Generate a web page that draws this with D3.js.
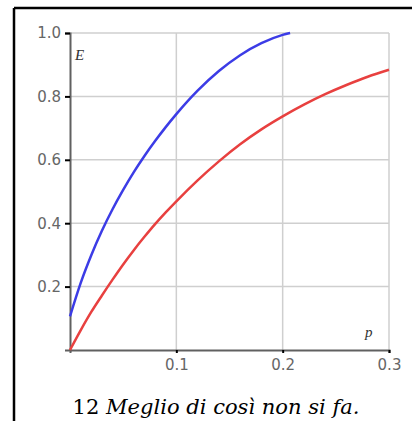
<!DOCTYPE html>
<html>
<head>
<meta charset="utf-8">
<script src="https://cdn.jsdelivr.net/npm/d3@7"></script>
<style>
  html, body { margin: 0; padding: 0; background: #fff; }
  svg { display: block; }
</style>
</head>
<body>
<svg id="chart" width="412" height="421"></svg>
<script>
// values
var redP      = [0, 0.01, 0.02, 0.03, 0.04, 0.05, 0.06, 0.07, 0.08, 0.09, 0.10, 0.12, 0.14, 0.16, 0.18, 0.20, 0.22, 0.24, 0.26, 0.28, 0.30];
var redE      = [0, 0.062, 0.12, 0.172, 0.222, 0.27, 0.315, 0.357, 0.397, 0.434, 0.469, 0.535, 0.595, 0.649, 0.696, 0.737, 0.774, 0.807, 0.836, 0.862, 0.884];
var blueP     = [0, 0.01, 0.02, 0.03, 0.04, 0.05, 0.06, 0.07, 0.08, 0.09, 0.10, 0.12, 0.14, 0.16, 0.18, 0.20, 0.207];
var blueE     = [0.106, 0.211, 0.299, 0.376, 0.444, 0.505, 0.561, 0.612, 0.659, 0.703, 0.744, 0.818, 0.880, 0.930, 0.968, 0.994, 1.0];
var xTicks    = [0.1, 0.2, 0.3];
var yTicks    = [0.2, 0.4, 0.6, 0.8, 1.0];
var caption   = "Meglio di così non si fa.";
var figNumber = "12";

var svg = d3.select("#chart");

// frame lines (top and left)
svg.append("line").attr("x1", 14).attr("x2", 412).attr("y1", 8).attr("y2", 8)
   .attr("stroke", "#000").attr("stroke-width", 2.5);
svg.append("line").attr("x1", 14).attr("x2", 14).attr("y1", 8).attr("y2", 421)
   .attr("stroke", "#000").attr("stroke-width", 2.5);

var x = d3.scaleLinear().domain([0, 0.3]).range([70, 389]);
var y = d3.scaleLinear().domain([0, 1]).range([350, 33]);

// grid
var grid = svg.append("g");
grid.selectAll(".gx").data(xTicks).enter().append("line")
  .attr("x1", function(d){ return x(d); }).attr("x2", function(d){ return x(d); })
  .attr("y1", y(0)).attr("y2", y(1))
  .attr("stroke", "#cfcfcf").attr("stroke-width", 1.5);
grid.selectAll(".gy").data(yTicks).enter().append("line")
  .attr("x1", x(0)).attr("x2", x(0.3))
  .attr("y1", function(d){ return y(d); }).attr("y2", function(d){ return y(d); })
  .attr("stroke", "#cfcfcf").attr("stroke-width", 1.5);

// axes
var xAxis = d3.axisBottom(x).tickValues(xTicks).tickSize(3).tickPadding(9)
  .tickFormat(d3.format(".1f"));
var yAxis = d3.axisLeft(y).tickValues(yTicks).tickSize(5).tickPadding(4)
  .tickFormat(d3.format(".1f"));

var gx = svg.append("g").attr("transform", "translate(0," + y(0) + ")").call(xAxis);
var gy = svg.append("g").attr("transform", "translate(" + x(0) + ",0)").call(yAxis);

[gx, gy].forEach(function(g){
  g.select(".domain").attr("stroke", "#606060").attr("stroke-width", 2);
  g.selectAll(".tick line").attr("stroke", "#000").attr("stroke-width", 2);
  g.selectAll(".tick text").attr("font-size", 15)
    .attr("font-family", "DejaVu Sans, sans-serif").attr("fill", "#666");
});
gx.selectAll(".tick text").attr("dy", "0.55em");

// curves
var line = d3.line().curve(d3.curveMonotoneX)
  .x(function(d){ return x(d[0]); })
  .y(function(d){ return y(d[1]); });

svg.append("path").datum(d3.zip(redP, redE))
  .attr("d", line).attr("fill", "none")
  .attr("stroke", "#e8403f").attr("stroke-width", 2.5);
svg.append("path").datum(d3.zip(blueP, blueE))
  .attr("d", line).attr("fill", "none")
  .attr("stroke", "#3c3ce6").attr("stroke-width", 2.5);

// axis names
svg.append("text").attr("x", 75).attr("y", 60).text("E")
  .attr("font-family", "Liberation Serif, serif").attr("font-style", "italic")
  .attr("font-size", 15).attr("fill", "#333");
svg.append("text").attr("x", 365).attr("y", 337).text("p")
  .attr("font-family", "Liberation Serif, serif").attr("font-style", "italic")
  .attr("font-size", 15).attr("fill", "#333");

// caption, sized to span the same width as the original
var cap = svg.append("text").attr("x", 216).attr("y", 414)
  .attr("text-anchor", "middle")
  .attr("font-family", "DejaVu Serif, Liberation Serif, serif")
  .attr("font-size", 20).attr("fill", "#000");
cap.append("tspan").text(figNumber + " ");
cap.append("tspan").attr("font-style", "italic").text(caption);
var w = cap.node().getComputedTextLength();
cap.attr("font-size", Math.min(24, 20 * 287 / w));
</script>
</body>
</html>
